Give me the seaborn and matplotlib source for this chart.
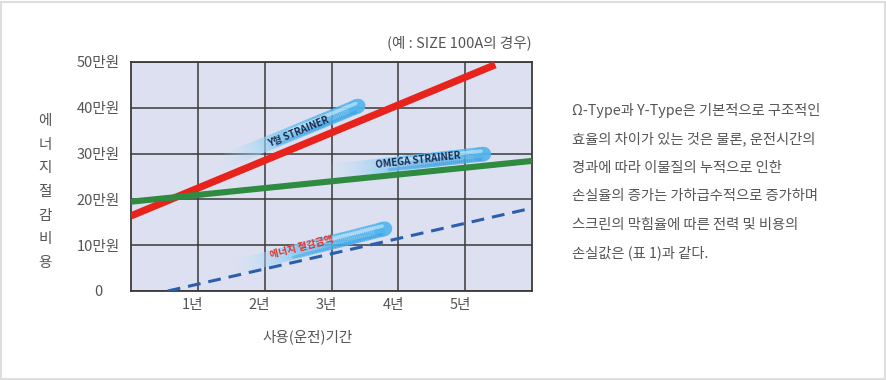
import numpy as np
import pandas as pd
import matplotlib
matplotlib.use("Agg")
import matplotlib.pyplot as plt
import matplotlib.transforms as mtransforms
from matplotlib.collections import LineCollection
from matplotlib.patches import Rectangle
import seaborn as sns

# ---------------- data ----------------
x_ticks = [1, 2, 3, 4, 5]
x_tick_labels = ["1년", "2년", "3년", "4년", "5년"]
y_ticks = [0, 10, 20, 30, 40, 50]
y_tick_labels = ["0", "10만원", "20만원", "30만원", "40만원", "50만원"]

y_strainer_years = [0.0, 5.45]
y_strainer_cost = [16.4, 49.4]
omega_years = [0.0, 6.0]
omega_cost = [19.5, 28.4]
saving_years = [0.55, 6.0]
saving_cost = [0.0, 18.1]

# annotation pills: (label, tail(x,y), head(x,y), text centre(x,y), text colour)
pill_labels = ["Y형 STRAINER", "OMEGA STRAINER", "에너지 절감금액"]
pill_tails = [(1.35, 28.0), (2.9, 26.0), (1.5, 5.0)]
pill_heads = [(3.40, 40.4), (5.28, 29.9), (3.80, 13.6)]
pill_text_pos = [(2.5, 34.8), (4.3, 28.6), (2.55, 9.6)]
pill_text_colors = ["#1b2a4a", "#1b2a4a", "#e8302a"]

title_text = "(예 : SIZE 100A의 경우)"
x_label = "사용(운전)기간"
y_label_chars = list("에너지절감비용")
paragraph = [
    "Ω-Type과 Y-Type은 기본적으로 구조적인",
    "효율의 차이가 있는 것은 물론, 운전시간의",
    "경과에 따라 이물질의 누적으로 인한",
    "손실율의 증가는 가하급수적으로 증가하며",
    "스크린의 막힘율에 따른 전력 및 비용의",
    "손실값은 (표 1)과 같다.",
]

# ---------------- style ----------------
sns.set_style("white")
plt.rcParams["font.family"] = ["Noto Sans CJK KR", "DejaVu Sans"]
TXT = "#555555"
GRID = "#3a3a3a"

W, H = 886, 380
fig = plt.figure(figsize=(W / 100, H / 100), dpi=100)
fig.patch.set_facecolor("white")
fig.patches.append(Rectangle((0.5 / W, 1.5 / H), (W - 2) / W, (H - 3) / H,
                             transform=fig.transFigure, fill=False,
                             edgecolor="#dedede", linewidth=1.5))

L, R, T, B = 131, 532, 62, 291
ax = fig.add_axes([L / W, 1 - B / H, (R - L) / W, (B - T) / H])
ax.set_facecolor("#dde0f1")
ax.set_xlim(0, 6)
ax.set_ylim(0, 50)

df_red = pd.DataFrame({"year": y_strainer_years, "cost": y_strainer_cost})
df_green = pd.DataFrame({"year": omega_years, "cost": omega_cost})
df_blue = pd.DataFrame({"year": saving_years, "cost": saving_cost})


def draw_pill(tail, head, lw_pt=10.5):
    n = 80
    xs = np.linspace(tail[0], head[0], n + 1)
    ys = np.linspace(tail[1], head[1], n + 1)
    segs = [[(xs[i], ys[i]), (xs[i + 1], ys[i + 1])] for i in range(n)]
    t = np.linspace(0, 1, n)
    c0 = np.array([0.80, 0.91, 0.98])
    c1 = np.array([0.32, 0.71, 0.93])
    cols = [(*(c0 + (c1 - c0) * min(1, ti * 1.4)), min(1.0, ti * 2.4) * 0.92) for ti in t]
    lc = LineCollection(segs, colors=cols, linewidths=lw_pt, capstyle="butt", zorder=2)
    ax.add_collection(lc)
    ax.plot([xs[-3], head[0]], [ys[-3], head[1]], color=tuple(c1), alpha=0.92, lw=lw_pt,
            solid_capstyle="round", zorder=2)
    off_hi = mtransforms.ScaledTranslation(-0.8 / 100, 3.2 / 100, fig.dpi_scale_trans)
    k = int(n * 0.5)
    ax.plot([xs[k], xs[-2]], [ys[k], ys[-2]], color="white", alpha=0.45, lw=lw_pt * 0.25,
            solid_capstyle="round", zorder=2, transform=ax.transData + off_hi)
    off_lo = mtransforms.ScaledTranslation(0.8 / 100, -4.8 / 100, fig.dpi_scale_trans)
    k2 = int(n * 0.4)
    ax.plot([xs[k2], xs[-3]], [ys[k2], ys[-3]], color="#2a8fd6", alpha=0.35, lw=lw_pt * 0.2,
            solid_capstyle="round", zorder=2, transform=ax.transData + off_lo)


for tail, head in zip(pill_tails, pill_heads):
    draw_pill(tail, head)

sns.lineplot(data=df_red, x="year", y="cost", ax=ax, color="#e8231c", lw=5.2,
             solid_capstyle="butt", zorder=3)
sns.lineplot(data=df_green, x="year", y="cost", ax=ax, color="#2e8b3f", lw=4.4,
             solid_capstyle="butt", zorder=3)
sns.lineplot(data=df_blue, x="year", y="cost", ax=ax, color="#2b5fae", lw=2.2,
             zorder=4)
ax.lines[-1].set_dashes((4.2, 2.6))

for lab, tail, head, pos, col in zip(pill_labels, pill_tails, pill_heads, pill_text_pos, pill_text_colors):
    p0 = ax.transData.transform(tail)
    p1 = ax.transData.transform(head)
    ang = np.degrees(np.arctan2(p1[1] - p0[1], p1[0] - p0[0]))
    ax.text(pos[0], pos[1], lab, rotation=ang, rotation_mode="anchor",
            ha="center", va="center", fontsize=7, color=col,
            fontweight="bold", zorder=5, family=["Noto Sans CJK KR", "DejaVu Sans"])

ax.set_xticks(x_ticks)
ax.set_xticklabels(x_tick_labels)
ax.set_yticks(y_ticks)
ax.set_yticklabels(y_tick_labels)
ax.grid(True, color=GRID, lw=1.1, zorder=1)
ax.set_axisbelow(True)
for s in ax.spines.values():
    s.set_color(GRID)
    s.set_linewidth(1.3)
    s.set_visible(True)
ax.tick_params(axis="x", length=0, pad=5, labelsize=10.5, labelcolor=TXT)
ax.tick_params(axis="y", length=0, pad=23.8, labelsize=10.5, labelcolor=TXT)
for lbl in ax.get_yticklabels():
    lbl.set_ha("center")
off = mtransforms.ScaledTranslation(-5 / 100, 0, fig.dpi_scale_trans)
for lbl in ax.get_xticklabels():
    lbl.set_transform(lbl.get_transform() + off)

ax.set_xlabel(x_label, fontsize=10.5, color=TXT)
ax.xaxis.set_label_coords((308 - L) / (R - L), (B - 337) / (B - T))
ax.xaxis.label.set_va("center")
ax.set_ylabel("")

ax.text(1.0, 1 + (T - 43) / (B - T), title_text, transform=ax.transAxes,
        ha="right", va="center", fontsize=10.5, color=TXT)

for i, ch in enumerate(y_label_chars):
    fig.text(45 / W, 1 - (121 + i * 23.67) / H, ch, ha="center", va="center",
             fontsize=10.5, color=TXT)

for i, line in enumerate(paragraph):
    fig.text(572 / W, 1 - (111 + i * 28.4) / H, line, ha="left", va="center",
             fontsize=10.3, color=TXT)

fig.savefig("out.png", dpi=100, facecolor="white")
